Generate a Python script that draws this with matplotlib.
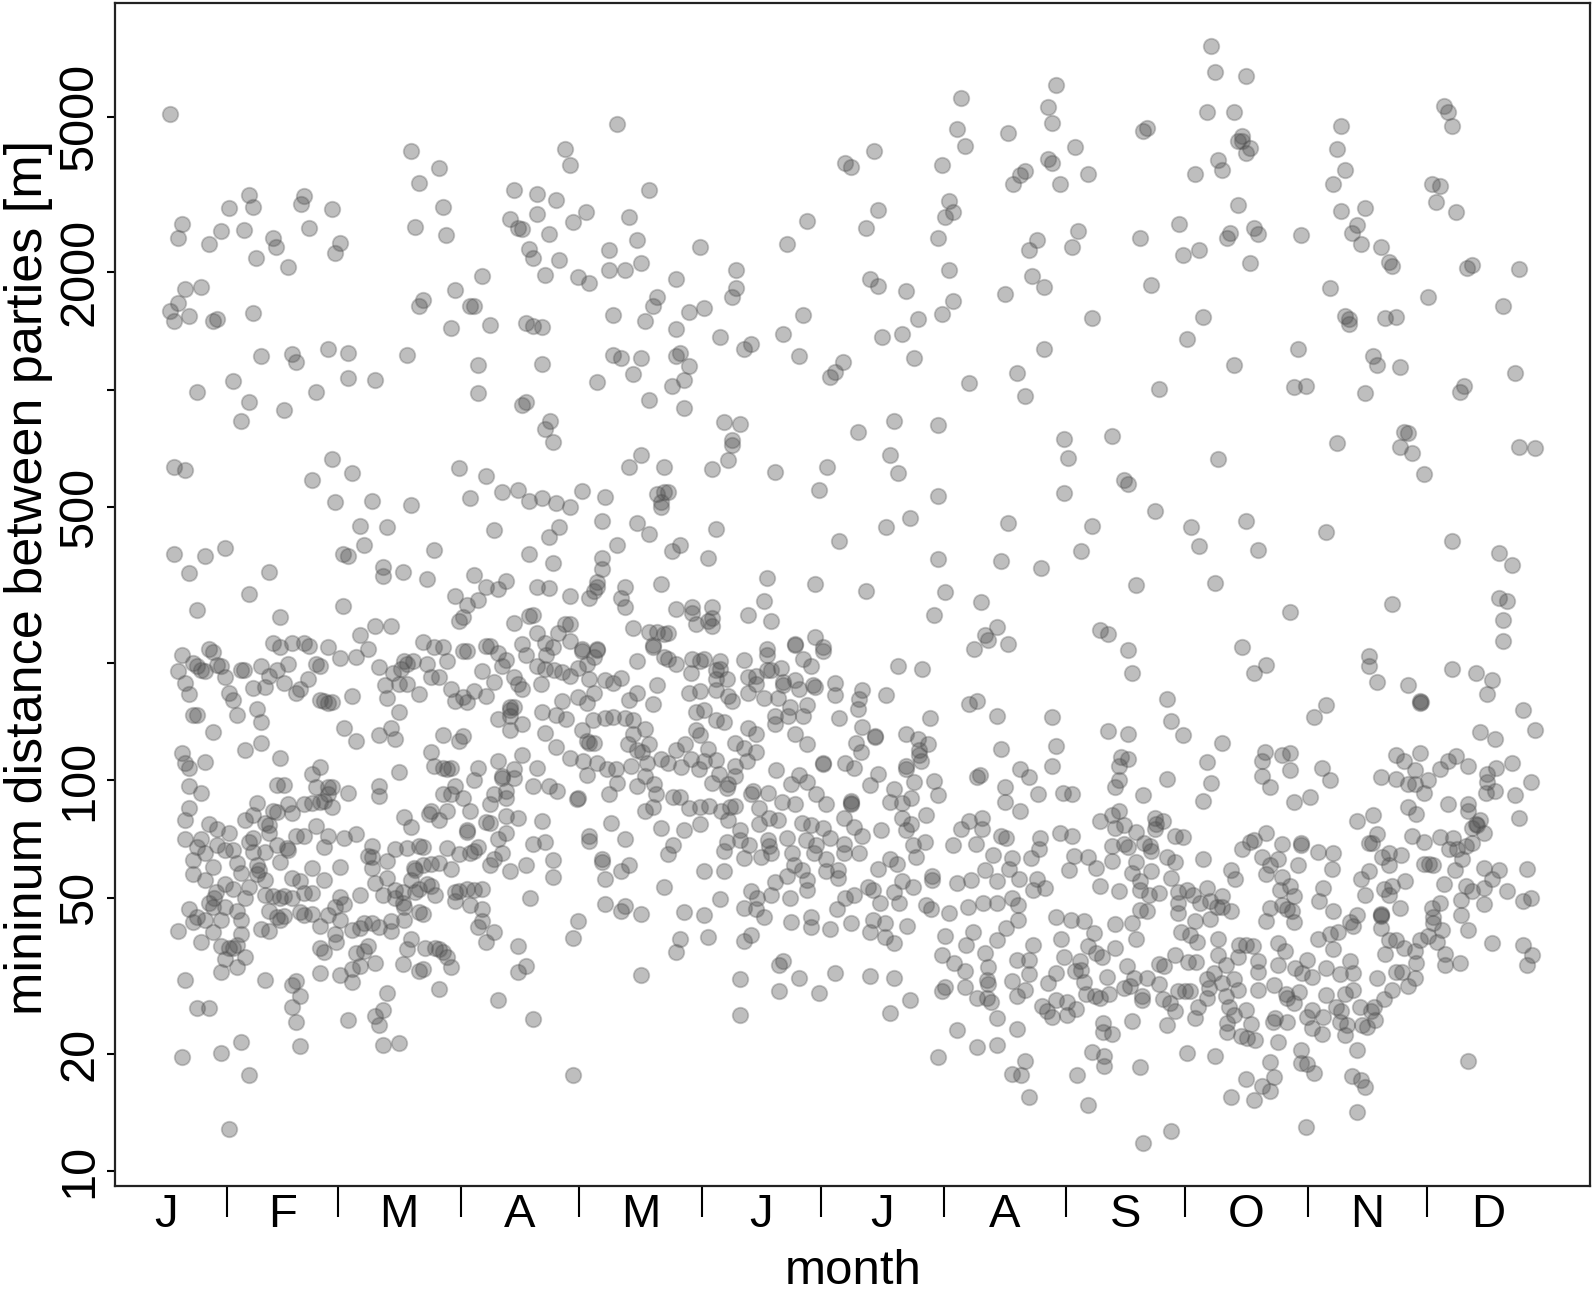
import numpy as np
import matplotlib
matplotlib.use('Agg')
import matplotlib.pyplot as plt

plt.rcParams['font.family'] = ['Liberation Sans', 'DejaVu Sans']

# day of year, log10(distance in m)
early_high = [(16.6,3.705),(77.5,3.611),(84.5,3.568),(79.6,3.528),(36.5,3.499),(50.5,3.496),(49.6,3.475),(37.5,3.467),(31.5,3.465),(57.4,3.463),(85.5,3.467),(19.5,3.423),(18.5,3.388),(29.5,3.407),(35.4,3.408),(26.5,3.373),(42.5,3.387),(43.4,3.366),(51.6,3.413),(59.5,3.376),(58.4,3.350),(38.4,3.337),(46.5,3.314),(78.5,3.416),(86.4,3.395),(103.4,3.512),(109.4,3.502),(114,3.486),(109.4,3.449),(102.5,3.436),(104.4,3.414),(105.4,3.412),(112.4,3.398),(107.4,3.359),(108.4,3.336),(114.9,3.331),(111.4,3.293),(95.4,3.290),(88.5,3.255),(24.4,3.264),(20.4,3.259),(18.5,3.223),(16.5,3.202),(17.5,3.177),(21.5,3.189),(27.5,3.177),(28.5,3.180),(37.5,3.196),(80.5,3.229),(79.6,3.214),(92.4,3.215),(93.5,3.214),(87.5,3.159),(97.5,3.166),(106.5,3.171),(108.4,3.162),(110.5,3.161),(39.5,3.085),(47.4,3.091),(48.4,3.070),(56.5,3.103),(61.5,3.094),(76.5,3.088),(94.4,3.062),(110.5,3.065),(32.4,3.022),(61.5,3.029),(68.5,3.024),(23.5,2.993),(53.5,2.993),(94.4,2.991),(36.5,2.968),(45.5,2.947),(34.5,2.919),(106.5,2.969),(105.5,2.960),(112.5,2.921),(111.4,2.900),(113.4,2.867),(57.4,2.822),(17.5,2.803),(20.4,2.795),(52.5,2.768),(62.5,2.787),(89.5,2.799),(96.4,2.779),(58.4,2.713),(67.5,2.716),(77.5,2.706),(92.5,2.722),(100.4,2.738),(104.5,2.744),(107.4,2.716),(110.5,2.722),(114,2.710),(64.5,2.651),(71.5,2.649),(65.5,2.603),(98.5,2.640),(112.4,2.624),(114.8,2.649),(83.4,2.591),(60.4,2.580),(61.5,2.574),(17.5,2.580),(25.5,2.575),(30.5,2.594),(107.4,2.579),(113.4,2.556),(21.5,2.530),(41.5,2.533),(70.4,2.545),(70.4,2.523),(75.5,2.534),(81.5,2.516),(93.5,2.525),(96.4,2.496),(99.4,2.489),(101.5,2.510),(109.4,2.495),(112.4,2.492),(36.5,2.477),(88.5,2.471),(94.4,2.462),(91.5,2.449),(23.5,2.437),(60.4,2.447),(90.5,2.418),(89.5,2.407),(44.5,2.418),(107.4,2.422),(108.4,2.424),(103.5,2.402),(109.4,2.377),(68.5,2.396),(72.5,2.394),(64.5,2.373)]

early_mid = [(42.5,2.352),(44.5,2.342),(47.4,2.352),(50.5,2.352),(51.6,2.343),(56.5,2.342),(66.5,2.337),(80.5,2.355),(83.4,2.342),(85.5,2.342),(90.5,2.331),(91.5,2.331),(96.4,2.345),(97.4,2.345),(105.5,2.349),(111.4,2.352),(113.4,2.342),(99.4,2.326),(19.5,2.321),(26.5,2.337),(27.5,2.328),(22.5,2.301),(23.5,2.292),(25.5,2.281),(24.5,2.283),(28.5,2.296),(29.5,2.294),(18.5,2.281),(20.4,2.25),(21.5,2.222),(30.5,2.264),(31.5,2.225),(32.4,2.206),(33.5,2.168),(34.5,2.283),(35.4,2.283),(39.5,2.294),(37.5,2.236),(40.5,2.239),(41.5,2.267),(43.5,2.283),(46.5,2.297),(45.5,2.249),(48.5,2.223),(49.5,2.233),(51.5,2.259),(53.5,2.299),(54.5,2.294),(59.5,2.313),(63.5,2.315),(69.5,2.29),(75.6,2.305),(76.5,2.299),(78,2.305),(81.5,2.299),(86.5,2.305),(72.9,2.275),(75,2.286),(82.5,2.264),(84.5,2.264),(71,2.243),(71.5,2.212),(74.5,2.246),(76.5,2.246),(79.6,2.222),(87.5,2.234),(88.5,2.203),(90.5,2.214),(91.5,2.2),(93.5,2.228),(96.4,2.217),(95.5,2.281),(98.5,2.251),(100.5,2.294),(101.5,2.307),(103.5,2.264),(104.5,2.246),(105.5,2.235),(106.5,2.322),(109.4,2.294),(110.4,2.246),(111.4,2.285),(113.5,2.283),(54.5,2.207),(55.5,2.203),(56.5,2.198),(57.5,2.2),(62.5,2.217),(22.5,2.168),(23.5,2.168),(38.5,2.184),(39.5,2.149),(27.5,2.124),(74.5,2.174),(102.5,2.187),(102.5,2.18),(103.5,2.187),(102.5,2.164),(99.4,2.158),(102.5,2.129),(105.5,2.145),(110.5,2.175),(114,2.168),(60.5,2.134),(63.5,2.102),(69.5,2.116),(72.5,2.134),(73.5,2.106),(85.5,2.115),(89.5,2.102),(90.5,2.113),(111.4,2.121),(114,2.086),(39.5,2.097),(35.5,2.079),(19.5,2.07),(20.4,2.044),(21.5,2.033),(25.5,2.047),(44.5,2.058),(82.5,2.073),(83.4,2.036),(85.5,2.033),(87.5,2.033),(86.5,2.03),(99.4,2.051),(105.5,2.065),(103.5,2.03),(94.4,2.031),(109.4,2.033),(54.5,2.035),(52.5,2.017),(74.5,2.021),(93.5,2.001),(100.4,2.012),(100.4,2.006),(103.5,2.006)]

early_low = [(21.5,1.985),(24.5,1.968),(43.5,1.989),(45.5,1.989),(53.5,1.983),(56.5,1.983),(57.5,1.983),(56.5,1.966),(61.5,1.967),(69.5,1.985),(69.5,1.96),(88.5,1.985),(85.5,1.966),(87.5,1.966),(90.5,1.956),(98.5,1.964),(101.5,1.974),(101.5,1.955),(108.4,1.985),(112.4,1.985),(114.4,1.972),(97.5,1.94),(21.5,1.93),(20.4,1.898),(38.5,1.942),(37.5,1.911),(35.5,1.9),(42.5,1.923),(43.5,1.919),(46.5,1.94),(47.5,1.916),(50.5,1.94),(52.5,1.942),(54.5,1.945),(55.5,1.948),(57.5,1.932),(82.5,1.923),(81.9,1.913),(84.5,1.898),(86.5,1.921),(92.5,1.921),(75.6,1.906),(77.5,1.881),(96.4,1.894),(97.4,1.891),(101.5,1.908),(104.5,1.903),(110.5,1.897),(26.5,1.889),(28.5,1.876),(31.5,1.866),(40.5,1.892),(41.5,1.887),(41.5,1.866),(53.5,1.884),(48.5,1.859),(50.5,1.857),(56.5,1.859),(60.5,1.852),(63.5,1.863),(91.5,1.873),(91.5,1.868),(101.5,1.866),(99.5,1.849),(20.4,1.85),(24.5,1.85),(23.5,1.829),(25.5,1.815),(28.5,1.836),(30.5,1.823),(32.4,1.821),(36.5,1.843),(37.5,1.852),(37.5,1.817),(40.5,1.817),(43.5,1.834),(46.5,1.822),(46.2,1.826),(55.5,1.829),(67.5,1.831),(73.5,1.825),(76.5,1.827),(79.6,1.831),(80.5,1.829),(86.5,1.827),(89.5,1.811),(92.5,1.815),(93.5,1.82),(94.4,1.829),(100.4,1.815),(108.4,1.838),(111.4,1.842),(22.5,1.797),(27.5,1.778),(33.5,1.788),(38.5,1.783),(44.5,1.79),(39,1.772),(52.5,1.775),(59.5,1.778),(66.5,1.806),(67.5,1.804),(67.5,1.777),(71.5,1.793),(78.3,1.775),(78.5,1.772),(80.5,1.783),(82.5,1.785),(84.5,1.788),(87.5,1.774),(97.4,1.783),(98.4,1.799),(102.5,1.769),(106.5,1.783),(113.4,1.796),(22.5,1.761),(25.5,1.745),(34.5,1.764),(38.5,1.761),(40.5,1.745),(47.5,1.751),(49.5,1.743),(55.5,1.745),(71.5,1.751),(77.4,1.745),(113.4,1.753),(28.3,1.714),(30.5,1.735),(32.4,1.722),(36.5,1.726),(68.5,1.738),(73.5,1.719),(75.5,1.714),(79.6,1.721),(81.5,1.735),(82.5,1.73),(88.5,1.714),(89.5,1.716),(93.5,1.719),(95.5,1.722),(91.5,1.722),(26.5,1.687),(27.8,1.698),(30.5,1.676),(35.5,1.7),(40.5,1.708),(42.5,1.703),(44.5,1.7),(45.5,1.703),(47.5,1.698),(50.5,1.711),(52.5,1.711),(59.5,1.701),(64.5,1.708),(70.5,1.708),(73.5,1.698),(75.5,1.687),(78.5,1.714),(83.5,1.708),(88.5,1.692),(92.5,1.682),(107.5,1.7),(21.5,1.671),(23.5,1.65),(27.5,1.676),(33.5,1.666),(41.5,1.666),(43.5,1.65),(45.5,1.653),(49.4,1.663),(50.5,1.655),(52.5,1.658),(56.5,1.655),(58.4,1.676),(60.5,1.685),(75.6,1.676),(79.6,1.663),(80.5,1.658),(95.5,1.671),(22.5,1.637),(25.5,1.642),(29.6,1.642),(34.5,1.644),(44.5,1.644),(54.5,1.628),(59.5,1.644),(67.5,1.634),(65.5,1.634),(69.5,1.625),(72.5,1.639),(75.6,1.642),(95.5,1.639),(94.4,1.626),(18.5,1.614),(27.5,1.612),(34.5,1.606),(39.5,1.62),(41.5,1.614),(58.4,1.608),(62.5,1.618),(64.5,1.623),(72.5,1.614),(98.5,1.612),(24.5,1.587),(29.5,1.575),(31.5,1.572),(33.5,1.58),(58.5,1.587),(77.5,1.593),(96.4,1.586),(104.5,1.575),(32.5,1.57),(35.5,1.548),(30.5,1.543),(54.5,1.57),(55.5,1.562),(63.5,1.559),(65.5,1.564),(66.5,1.575),(76.5,1.568),(81,1.57),(83.5,1.572),(84.5,1.568),(85.5,1.561),(86.5,1.548),(29.5,1.509),(33.5,1.522),(54.5,1.506),(59.5,1.502),(62.5,1.517),(64.5,1.525),(68.5,1.532),(75.5,1.531),(79.6,1.511),(80.5,1.517),(87.5,1.522),(106.5,1.525),(104.5,1.509),(20.4,1.49),(40.5,1.488),(48.4,1.487),(47.4,1.477),(62.5,1.485),(49.5,1.449),(71.5,1.455),(84.5,1.465),(99.5,1.439),(23.5,1.417),(26.5,1.417),(47.4,1.421),(70.4,1.412),(68.5,1.396),(69.5,1.373),(48.5,1.381),(61.5,1.386),(108.4,1.389),(70.4,1.322),(74.5,1.328),(49.5,1.32),(34.5,1.33),(29.5,1.303),(19.5,1.291),(36.5,1.247),(31.5,1.109)]

mid_high = [(129.6,3.68),(116.5,3.616),(117.6,3.576),(137.6,3.51),(114.6,3.486),(121.6,3.454),(118.5,3.428),(132.5,3.442),(112.5,3.4),(134.5,3.383),(127.6,3.358),(115.6,3.333),(135.6,3.325),(127.6,3.307),(131.5,3.306),(150.5,3.364),(111.7,3.293),(119.6,3.289),(122.5,3.273),(144.5,3.283),(159.6,3.307),(159.6,3.26),(158.6,3.236),(139.6,3.238),(138.5,3.214),(136.5,3.175),(128.5,3.192),(147.6,3.198),(151.5,3.208),(144.5,3.156),(155.5,3.135),(163.4,3.117),(161.5,3.104),(128.5,3.088),(130.5,3.08),(135.6,3.082),(145.5,3.093),(144.5,3.085),(147.6,3.061),(133.5,3.041),(146.5,3.025),(143.5,3.009),(124.5,3.021),(137.6,2.973),(146.5,2.953),(172.5,3.373),(177.4,3.431),(171.4,3.143),(176.5,3.192),(175.4,3.085),(186.5,3.07),(184.5,3.046),(183.4,3.033),(187.2,3.581),(188.6,3.571),(194.4,3.61),(211.5,3.576),(216.4,3.747),(215.5,3.668),(217.5,3.624),(213.5,3.484),(214.5,3.456),(212.4,3.441),(195.5,3.46),(192.5,3.415),(210.5,3.389),(213.5,3.307),(193.5,3.283),(195.5,3.266),(202.5,3.253),(214.5,3.228),(211.5,3.193),(205.5,3.18),(201.5,3.143),(196.4,3.135),(204.5,3.082),(218.5,3.017),(240.5,3.779),(238.5,3.723),(239.5,3.683),(228.4,3.658),(245.2,3.62),(238.5,3.591),(239.5,3.581),(232.5,3.561),(231.4,3.55),(229.5,3.527),(241.5,3.527),(235.5,3.383),(233.5,3.358),(244.5,3.364),(246,3.406),(234.4,3.292),(237.5,3.262),(227.5,3.244),(237.5,3.103),(230.5,3.044),(232.5,2.984),(156.6,2.918),(160.6,2.911),(158.6,2.872),(158.6,2.859),(157.5,2.821),(153.5,2.798),(135.6,2.833),(132.5,2.801),(141.5,2.801),(169.5,2.789),(182.5,2.801),(180.5,2.743),(139.6,2.734),(141.5,2.738),(142.5,2.739),(140.5,2.713),(140.5,2.7),(120.6,2.74),(126.5,2.725),(114.5,2.71),(117.6,2.699),(125.6,2.663),(134.5,2.66),(137.6,2.631),(115.6,2.649),(112.5,2.625),(154.6,2.644),(129.6,2.603),(145.5,2.603),(143.5,2.586),(152.5,2.569),(113.6,2.556),(125.6,2.569),(125.6,2.54),(124.5,2.509),(124.5,2.495),(123.7,2.484),(122.5,2.468),(112.5,2.492),(117.6,2.473),(131.5,2.496),(130.5,2.467),(131.5,2.444),(140.5,2.502),(144.5,2.44),(148.5,2.445),(148.5,2.429),(149.5,2.401),(153.5,2.443),(153.5,2.415),(152.5,2.408),(153.5,2.396),(167.5,2.519),(166.6,2.46),(162.5,2.424),(168.5,2.408),(179.5,2.502),(192.5,2.485),(210.5,2.567),(212.4,2.481),(209.5,2.424),(221.5,2.456),(225.5,2.392),(222.4,2.371),(223.3,2.359),(228.4,2.349),(197.5,2.649),(203.5,2.671),(185.5,2.614),(210.5,2.729),(210.5,2.909),(199.5,2.921),(190.5,2.893),(198.5,2.834),(200.5,2.788),(242.5,2.873),(243.5,2.824),(242.5,2.735),(228.4,2.658),(226.4,2.561),(236.5,2.543),(246.6,2.588),(117.6,2.40),(116.5,2.40),(133.5,2.389),(137.6,2.381),(139.6,2.381),(141.5,2.376),(142.5,2.378),(114.6,2.378),(112.8,2.362),(117.6,2.357),(120.6,2.336),(124.5,2.336),(138.5,2.346),(174.4,2.349),(179.5,2.367),(181.5,2.341),(219.6,2.336),(167.5,2.336)]

mid_upper = [(138.5,2.342),(141.5,2.315),(142.5,2.31),(144.5,2.297),(134.5,2.305),(148.5,2.31),(150.5,2.305),(151.5,2.31),(155.5,2.305),(161.5,2.307),(167.5,2.321),(168.5,2.283),(171,2.289),(174.6,2.347),(176.6,2.31),(178.6,2.294),(181.5,2.331),(200.5,2.294),(206.5,2.285),(148.3,2.275),(154.5,2.283),(155.5,2.285),(154.5,2.26),(157.2,2.26),(164.6,2.267),(162.5,2.265),(164.6,2.246),(167.5,2.283),(171.5,2.251),(174.6,2.257),(171.5,2.243),(175.4,2.235),(178.9,2.243),(179.5,2.239),(184.5,2.249),(184.5,2.219),(191.5,2.232),(190.6,2.209),(190.5,2.182),(197.5,2.218),(111.7,2.321),(114.5,2.292),(115.6,2.278),(117.6,2.267),(119.6,2.289),(120.6,2.331),(124.5,2.334),(123.7,2.315),(122,2.299),(122.5,2.26),(126.5,2.257),(128.5,2.249),(130.5,2.262),(139.6,2.243),(134.5,2.225),(132.5,2.207),(138.5,2.196),(147.6,2.223),(150.5,2.23),(154.5,2.232),(157.6,2.217),(158.6,2.203),(162.5,2.223),(166.6,2.211),(170.2,2.211),(173.3,2.187),(177.4,2.193),(122,2.198),(119.6,2.214),(123.7,2.225),(115.6,2.203),(110.9,2.175),(114.5,2.171),(116.6,2.158),(110.9,2.246),(123.5,2.155),(126.5,2.161),(128.5,2.163),(131.5,2.161),(133.5,2.155),(149.5,2.175),(151.5,2.179),(154.5,2.155),(156.5,2.15),(169.5,2.164),(169.5,2.145),(172.7,2.166),(176.5,2.166),(185.5,2.159),(191.4,2.136),(208.5,2.159),(218.5,2.196),(220.5,2.203),(225.5,2.165),(239.5,2.163),(111.6,2.121),(120.6,2.129),(136.5,2.131),(133.5,2.118),(149.5,2.129),(150.4,2.115),(162.6,2.134),(164.6,2.118),(174.6,2.118),(194.6,2.111),(194.6,2.114),(202.5,2.118),(205.5,2.105),(208,2.094),(189.8,2.097),(177.4,2.094),(114.5,2.086),(122,2.102),(122.5,2.097),(123.7,2.097),(132.4,2.092),(137.6,2.092),(146.7,2.092),(152.5,2.081),(159.4,2.095),(161.5,2.083),(164.6,2.072),(191.1,2.072),(205.9,2.079),(205.9,2.065),(226.4,2.081),(240.5,2.089),(117.6,2.058),(121,2.049),(124.5,2.044),(134.5,2.079),(135.8,2.072),(140.6,2.056),(142.5,2.044),(144.5,2.079),(148.3,2.054),(151.5,2.049),(154.5,2.052),(162.4,2.049),(181.5,2.042),(181.5,2.044),(187.2,2.044),(189.4,2.033),(206.3,2.049),(239.5,2.038),(110.6,2.033),(122,2.014),(127.1,2.028),(129.3,2.028),(133,2.036),(137,2.044),(136.7,2.012),(145.7,2.035),(150.2,2.028),(155.4,2.017),(159.3,2.038),(159.3,2.012),(169.8,2.026),(175.4,2.015),(195.5,2.017),(202.4,2.038),(202.6,2.028),(221.1,2.015),(220.5,2.009),(231.4,2.028),(233.5,2.009)]

mid_low = [(112.5,1.983),(115.6,1.972),(119.6,1.955),(119.4,1.953),(127.6,1.964),(129.5,1.993),(134.5,1.985),(138.9,1.99),(139.3,1.966),(143.7,1.958),(145.4,1.958),(153.4,1.993),(157.6,1.99),(157.2,1.98),(163.9,1.974),(163.3,1.966),(167.6,1.969),(173.4,1.99),(177.6,1.996),(179.8,1.964),(193.5,1.989),(199.5,1.979),(204.6,1.996),(209.5,1.999),(210.5,1.962),(227.5,1.983),(235.9,1.966),(242.2,1.969),(244.5,1.966),(147.6,1.929),(150.6,1.932),(152.8,1.934),(155.9,1.921),(158,1.932),(159.3,1.934),(138.5,1.932),(136.5,1.921),(165.4,1.929),(171.1,1.945),(174.6,1.94),(182.4,1.94),(188.5,1.948),(188.5,1.939),(188.5,1.943),(198.5,1.945),(201.5,1.942),(203.7,1.955),(227.5,1.945),(231.4,1.921),(110.9,1.898),(128,1.892),(140.5,1.879),(146.5,1.873),(150.5,1.889),(157.6,1.9),(165.4,1.889),(168,1.905),(170.2,1.9),(176.3,1.892),(178.5,1.887),(181.5,1.879),(186.8,1.905),(189.4,1.882),(196.3,1.872),(201.5,1.905),(207.5,1.911),(202.4,1.873),(203.7,1.889),(221.6,1.905),(218.5,1.897),(216.3,1.876),(221.6,1.876),(122.5,1.857),(122.5,1.846),(131.5,1.849),(111.6,1.842),(143.7,1.836),(142.5,1.811),(157.2,1.843),(160.6,1.873),(160.6,1.847),(162.8,1.836),(167.6,1.847),(168,1.831),(172.4,1.852),(177.2,1.847),(179.8,1.836),(183.3,1.852),(186.8,1.838),(191.5,1.857),(204.2,1.836),(207.2,1.843),(214.3,1.834),(220.3,1.838),(226.4,1.857),(227.7,1.852),(236.4,1.852),(236,1.825),(241.3,1.866),(244.5,1.857),(113.6,1.793),(125.6,1.799),(125.6,1.792),(156.5,1.82),(161.5,1.801),(165.9,1.804),(168.3,1.815),(173.7,1.815),(179.4,1.815),(182.4,1.799),(186.8,1.815),(190.7,1.815),(198.5,1.799),(200.2,1.785),(205,1.804),(224.6,1.809),(229.4,1.802),(234.2,1.802),(245,1.806),(113.6,1.753),(132.5,1.783),(130.5,1.769),(151.5,1.769),(156.6,1.769),(126.5,1.748),(174.1,1.783),(176.3,1.772),(182.4,1.767),(185.4,1.772),(195.5,1.774),(209,1.756),(222.4,1.772),(228.5,1.774),(243.8,1.772),(141.5,1.728),(169.3,1.74),(172.4,1.756),(177.6,1.745),(185.4,1.751),(192.8,1.727),(201.5,1.742),(204.2,1.727),(209,1.745),(215.5,1.738),(219,1.745),(225.5,1.742),(231.1,1.749),(235.5,1.749),(126.5,1.685),(131.5,1.679),(130.5,1.666),(135.6,1.658),(146.5,1.663),(151.5,1.655),(155.5,1.696),(163.4,1.717),(165,1.698),(161.5,1.674),(164.6,1.671),(166.7,1.65),(168.5,1.708),(173.3,1.7),(177.6,1.719),(185,1.671),(187.2,1.698),(189.4,1.708),(194.1,1.719),(195.9,1.687),(199.4,1.714),(200.7,1.687),(207.6,1.682),(208.9,1.671),(213.3,1.66),(218.1,1.676),(222,1.687),(225.5,1.687),(229.4,1.698),(230.7,1.682),(234.6,1.719),(237.7,1.724),(119.6,1.641),(118.5,1.596),(144.5,1.561),(145.5,1.593),(152.5,1.6),(161.5,1.589),(163.4,1.604),(173.4,1.637),(178.5,1.626),(178.5,1.65),(183.4,1.621),(188.5,1.634),(193.5,1.612),(194.1,1.644),(197.2,1.634),(197.2,1.6),(199.5,1.585),(202.7,1.628),(212.4,1.602),(219.4,1.612),(217.7,1.58),(225.5,1.591),(227.7,1.623),(230.7,1.642),(234.6,1.58),(241.6,1.593),(240.3,1.65),(244.2,1.642),(135.6,1.501),(160.5,1.491),(160.5,1.399),(170.5,1.461),(170.5,1.527),(171.5,1.538),(175.4,1.495),(180.5,1.457),(184.5,1.506),(193.5,1.499),(199.5,1.494),(203.5,1.439),(198.5,1.406),(211.6,1.554),(214.6,1.532),(217.5,1.511),(222.4,1.559),(223.3,1.522),(222.9,1.49),(223.3,1.479),(217.5,1.471),(211.6,1.461),(212.4,1.472),(220.5,1.442),(222.9,1.442),(224.1,1.433),(229.4,1.487),(230.5,1.54),(233.5,1.54),(233.5,1.504),(232.5,1.463),(230.5,1.447),(238.5,1.482),(240.3,1.506),(242.5,1.548),(236.8,1.423),(238.1,1.41),(240.3,1.437),(239.4,1.394),(243.3,1.399),(243.3,1.433),(245.5,1.415),(225.5,1.391),(215.5,1.36),(230.5,1.363),(220.5,1.319),(225.5,1.323),(210.5,1.293),(232.5,1.282),(229.4,1.248),(231.6,1.245),(233.5,1.19),(118.5,1.247),(245.8,1.247)]

late_high = [(279.5,3.879),(280.5,3.812),(288.4,3.804),(278.5,3.71),(285.4,3.712),(263.5,3.669),(262.4,3.663),(287.4,3.65),(286.5,3.637),(287.4,3.637),(289.5,3.618),(288.4,3.605),(245.5,3.62),(281.4,3.588),(282.4,3.562),(275.6,3.551),(248.5,3.552),(286.5,3.473),(271.5,3.424),(261.6,3.389),(284.4,3.4),(283.5,3.389),(290.4,3.414),(291.5,3.398),(246.5,3.407),(244.5,3.364),(276.5,3.358),(272.6,3.344),(289.5,3.324),(264.5,3.269),(312.4,3.676),(311.4,3.617),(313.4,3.563),(310.4,3.527),(312.4,3.457),(318.4,3.466),(316.4,3.421),(315.3,3.401),(317.4,3.372),(302.4,3.397),(322.5,3.364),(324.4,3.328),(325.4,3.317),(309.5,3.261),(338.4,3.726),(339.5,3.71),(340.4,3.675),(335.4,3.527),(337.4,3.522),(336.5,3.48),(341.5,3.455),(345.4,3.319),(344.3,3.311),(357.4,3.31),(334.4,3.236),(353.4,3.215),(249.5,3.184),(277.5,3.187),(273.5,3.131),(285.4,3.063),(266.5,3.001),(313.4,3.188),(314.5,3.18),(314.5,3.168),(323.4,3.183),(326.4,3.185),(301.5,3.105),(320.4,3.085),(321.4,3.064),(327.4,3.057),(300.5,3.006),(303.5,3.009),(318.4,2.992),(343.4,3.01),(342.4,2.995),(356.4,3.044),(254.5,2.882),(281.4,2.823),(257.5,2.769),(258.5,2.758),(265.5,2.69),(249.5,2.651),(247.5,2.588),(274.4,2.648),(276.5,2.6),(288.4,2.664),(291.5,2.589),(260.5,2.501),(280.5,2.506),(251.5,2.386),(253.5,2.375),(258.5,2.335),(287.4,2.341),(299.4,2.431),(311.4,2.864),(328.4,2.893),(329.4,2.888),(327.4,2.853),(330.4,2.838),(333.4,2.783),(308.5,2.635),(340.4,2.612),(352.4,2.583),(355.5,2.552),(325.4,2.452),(352.4,2.468),(354.4,2.458),(353.4,2.41),(353.4,2.357),(357.4,2.853),(361.5,2.851)]

late_upper = [(259.5,2.275),(293.4,2.296),(290.4,2.276),(319.4,2.318),(319.4,2.292),(321.4,2.252),(340.4,2.286),(346.4,2.276),(350.5,2.257),(349.4,2.22),(329.4,2.243),(332.4,2.203),(332.5,2.2),(332.4,2.197),(308.5,2.193),(305.5,2.163),(358.5,2.181),(361.5,2.13),(347.5,2.124),(351.4,2.105),(268.4,2.209),(269.5,2.152),(272.6,2.116),(253.5,2.127),(258.5,2.118),(282.4,2.097),(293.3,2.073),(292.5,2.049),(297.5,2.065),(299.4,2.07),(299.4,2.026),(292.5,2.012),(294.5,1.983),(307.5,2.032),(309.5,2.002),(304.5,1.957),(300.5,1.944),(278.5,2.046),(279.5,1.993),(277.5,1.947),(256.7,2.06),(258.5,2.056),(256.4,2.036),(256.4,2.001),(255.4,1.983),(268.4,2.004),(262.4,1.962),(243,1.969),(244.6,1.964),(326.4,2.064),(328.4,2.051),(332.4,2.07),(322.4,2.01),(326.4,2.004),(329.4,1.99),(331,2.026),(334.4,2.001),(333.4,1.969),(331,1.99),(337.4,2.03),(339.5,2.051),(341.5,2.062),(344.5,2.038),(349.4,2.017),(349.4,1.996),(351.6,2.031),(355.5,2.045),(360.4,1.995),(349,1.967),(351.4,1.972),(356.4,1.962),(357.4,1.905),(339.4,1.939),(344.5,1.94),(344.5,1.921),(329.4,1.932),(331.4,1.913)]

late_low = [(251.5,1.897),(254.5,1.911),(256.4,1.923),(255.4,1.879),(257.5,1.886),(260.7,1.868),(265.3,1.905),(265.7,1.889),(265.5,1.875),(267.5,1.897),(270.4,1.859),(272.6,1.854),(244.6,1.865),(243,1.852),(316.4,1.897),(320.4,1.911),(346.4,1.889),(347.5,1.898),(345.4,1.879),(348.4,1.866),(346.8,1.885),(293.4,1.865),(290.4,1.847),(289.5,1.843),(287.4,1.825),(297.5,1.838),(302.2,1.836),(302.4,1.839),(306.5,1.818),(310.3,1.815),(310.2,1.774),(321.5,1.863),(319.4,1.841),(320.2,1.841),(330.4,1.859),(333.4,1.843),(337.4,1.854),(340.8,1.852),(339.6,1.825),(341.7,1.825),(343.9,1.831),(345.6,1.841),(254.5,1.831),(257.5,1.838),(258.5,1.829),(262.7,1.841),(264.1,1.831),(264.4,1.82),(245.5,1.809),(248.5,1.804),(254.5,1.793),(250.5,1.777),(260.7,1.791),(268.4,1.804),(270.4,1.791),(277.5,1.8),(292.5,1.804),(294.5,1.783),(296.4,1.799),(301.5,1.783),(293.4,1.761),(297.5,1.753),(284.6,1.772),(285.6,1.748),(324.5,1.815),(322.8,1.804),(327.5,1.808),(324.5,1.783),(319.4,1.769),(317.4,1.749),(328.6,1.742),(333.4,1.786),(335.7,1.783),(334.6,1.785),(341.3,1.772),(343,1.799),(348.6,1.775),(352.4,1.77),(350.5,1.749),(359.5,1.774),(243.3,1.772),(244.6,1.772),(251.5,1.729),(256.4,1.716),(264.4,1.769),(259.5,1.764),(261.6,1.742),(269.5,1.751),(261.6,1.719),(263.8,1.706),(266.5,1.711),(271.3,1.714),(273.4,1.719),(275.1,1.706),(278.6,1.724),(282.4,1.703),(271.3,1.687),(271.3,1.66),(275.6,1.639),(276.8,1.687),(279.4,1.692),(281.1,1.676),(282.4,1.676),(284.6,1.666),(279.4,1.646),(299.6,1.729),(297,1.719),(300.5,1.703),(294.5,1.674),(297.5,1.682),(298.8,1.671),(293.4,1.639),(300,1.666),(300.5,1.637),(307.8,1.724),(306.9,1.692),(310.3,1.666),(318.5,1.708),(323.2,1.722),(324.5,1.708),(325.4,1.73),(327.4,1.674),(335.3,1.674),(337.4,1.687),(338.5,1.735),(342.6,1.695),(343.9,1.729),(345.4,1.717),(348.6,1.724),(348.6,1.685),(354.4,1.717),(358.5,1.691),(360.4,1.7),(342.6,1.655),(344.5,1.617),(243.3,1.655),(245.1,1.644),(247.6,1.639),(250,1.609),(255.4,1.632),(259.5,1.636),(261.6,1.668),(263.5,1.666),(260.5,1.594),(242,1.593),(248.5,1.575),(250.6,1.559),(255.4,1.57),(246.4,1.538),(242.5,1.538),(251.9,1.548),(272.1,1.612),(274.3,1.604),(276,1.586),(281.4,1.595),(286.7,1.58),(288.4,1.578),(290.2,1.577),(296.6,1.583),(298.3,1.564),(286.3,1.548),(281.4,1.552),(306.5,1.593),(309.5,1.607),(311.6,1.612),(314.6,1.637),(316.4,1.655),(315.5,1.628),(322.4,1.655),(322.4,1.652),(322.4,1.658),(322.4,1.623),(324.4,1.591),(326.2,1.591),(328.4,1.572),(331,1.564),(332.4,1.591),(334.4,1.602),(335.7,1.65),(335.7,1.634),(337.8,1.618),(336.6,1.586),(338.7,1.557),(350.5,1.584),(358.5,1.578),(360.6,1.552),(359.5,1.527),(342.4,1.532),(338.6,1.527),(310.4,1.568),(303.9,1.54),(314.6,1.538),(323.4,1.556),(331.4,1.532),(296.4,1.527),(291.5,1.538),(291.5,1.509),(300.9,1.519),(302.6,1.506),(305.2,1.497),(308.5,1.519),(312.2,1.504),(315.5,1.506),(321.5,1.495),(326.2,1.509),(331,1.495),(329.4,1.474),(327.8,1.509),(246.8,1.516),(245.1,1.511),(253.2,1.497),(258.4,1.524),(260.1,1.495),(263.5,1.495),(266.5,1.529),(267.8,1.525),(270.4,1.554),(273.8,1.535),(275.7,1.535),(283.3,1.527),(280.3,1.506),(278.6,1.493),(285.4,1.493),(282.4,1.482),(247.5,1.485),(248.1,1.453),(250.2,1.447),(251.5,1.442),(253.7,1.453),(257.5,1.469),(259.2,1.474),(262.2,1.447),(262.2,1.437),(266.5,1.479),(267.4,1.44),(271.3,1.461),(273,1.46),(274.3,1.46),(278.6,1.442),(279,1.469),(283.3,1.447),(286.3,1.463),(291.5,1.463),(295.5,1.476),(298.5,1.453),(298.8,1.442),(300.5,1.431),(301.8,1.458),(308.5,1.45),(313.4,1.453),(315.5,1.463),(325.4,1.463),(323.2,1.44),(243.3,1.431),(246.4,1.412),(246.2,1.414),(243.3,1.399),(269.1,1.431),(270.4,1.41),(276.4,1.421),(275.4,1.391),(284.1,1.421),(285.4,1.399),(288.4,1.413),(305.2,1.412),(303.9,1.394),(307.8,1.394),(311.2,1.421),(312.5,1.41),(317.2,1.419),(320.7,1.421),(320,1.41),(252.4,1.378),(259.5,1.384),(268.4,1.375),(283.7,1.378),(289.6,1.376),(295.7,1.391),(295.3,1.383),(298.8,1.381),(305.2,1.367),(312.1,1.383),(313.8,1.373),(317.7,1.373),(319,1.37),(321.1,1.387),(252.4,1.357),(254.5,1.351),(283.5,1.357),(287.2,1.346),(288.7,1.341),(290.6,1.335),(296.4,1.33),(307.5,1.351),(313.4,1.349),(249.5,1.306),(252.5,1.295),(273.5,1.302),(280.5,1.295),(302.4,1.309),(316.5,1.31),(294.5,1.28),(252.5,1.268),(261.6,1.267),(344.5,1.281),(302.4,1.278),(303.9,1.274),(305.5,1.25),(246.5,1.247),(288.4,1.236),(295.5,1.24),(292.5,1.218),(294.5,1.206),(315.3,1.243),(317.4,1.234),(318.4,1.216),(284.6,1.19),(290.4,1.182),(248.5,1.169),(316.5,1.151),(303.5,1.112),(269.5,1.104),(262.4,1.072)]

month_labels = ['J', 'F', 'M', 'A', 'M', 'J', 'J', 'A', 'S', 'O', 'N', 'D']
month_mid = [15.5, 45, 74.5, 105, 135.5, 166, 196.5, 227.5, 258, 288.5, 319, 349.5]
month_end = [31, 59, 90, 120, 151, 181, 212, 243, 273, 304, 334]
y_ticks = [10, 20, 50, 100, 200, 500, 1000, 2000, 5000]
y_labels = ['10', '20', '50', '100', '', '500', '', '2000', '5000']


def drop_seam_repeats(kept, extra, lo, hi):
    out = []
    for p in extra:
        if lo <= p[0] <= hi and any(abs(p[0] - q[0]) < 1.6 and abs(p[1] - q[1]) < 0.016 for q in kept):
            continue
        out.append(p)
    return out


early = early_high + early_mid + early_low
mid = drop_seam_repeats(early, mid_high + mid_upper + mid_low, 108, 118)
late = drop_seam_repeats(mid, late_high + late_upper + late_low, 240, 248)
pts = np.array(early + mid + late)
day = pts[:, 0]
dist = 10 ** pts[:, 1]

fig = plt.figure(figsize=(15.93, 12.92), dpi=100)
ax = fig.add_axes([115 / 1593, 1 - 1186 / 1292, (1590 - 115) / 1593, (1186 - 2.5) / 1292])

ax.scatter(day, dist, s=125, facecolors=(0.3, 0.3, 0.3, 0.36), edgecolors=(0.3, 0.3, 0.3, 0.3),
           linewidths=1.3)

ax.set_yscale('log')
ax.set_xlim(2.7, 375.3)
ax.set_ylim(10 ** 0.962, 10 ** 3.991)

ax.set_yticks(y_ticks)
ax.set_yticklabels(y_labels, rotation=90, va='center', fontsize=35)
ax.minorticks_off()
ax.tick_params(axis='y', length=6, width=1.5, pad=3)

ax.set_xticks(month_end)
ax.set_xticklabels([])
ax.tick_params(axis='x', length=22, width=1.5)
for m, lab in zip(month_mid, month_labels):
    ax.text(m, -0.006, lab, transform=ax.get_xaxis_transform(), ha='center', va='top', fontsize=34)

for s in ax.spines.values():
    s.set_linewidth(1.6)
    s.set_color('#222222')

fig.text(853 / 1593, 1 - 1272 / 1292, 'month', ha='center', va='center', fontsize=35.5)
fig.text(29 / 1593, 1 - 577 / 1292, 'mininum distance between parties [m]', rotation=90,
         ha='center', va='center', fontsize=37.5)

fig.savefig('out.png', dpi=100)
